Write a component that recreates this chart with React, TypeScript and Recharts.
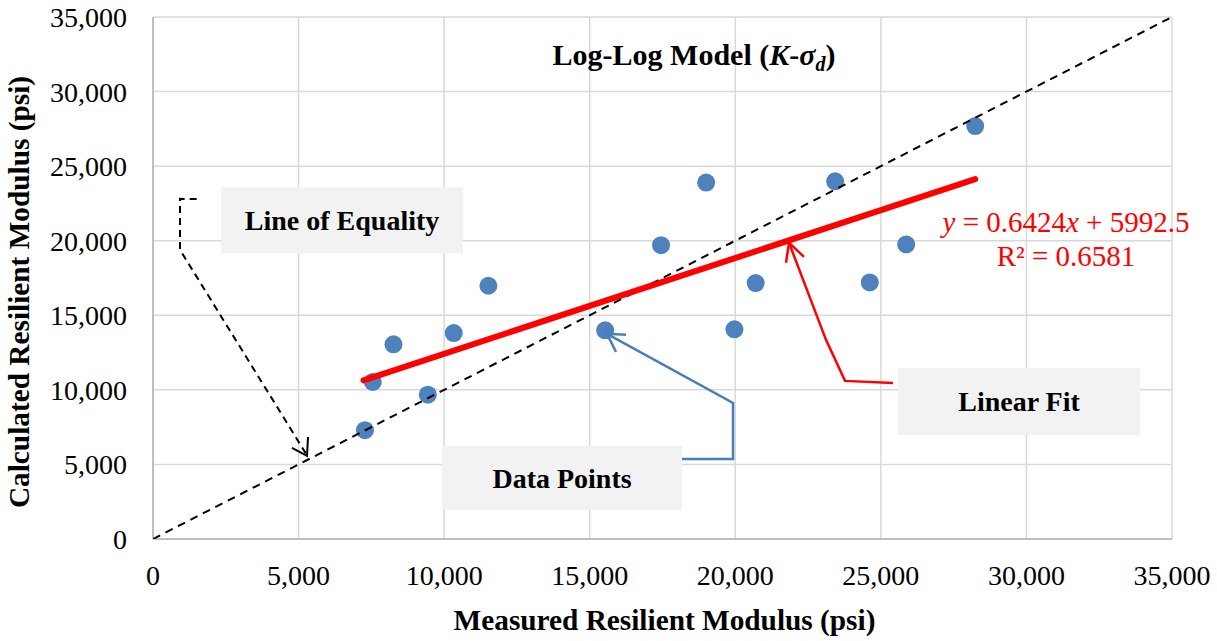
import React from 'react';
import {
  ScatterChart,
  Scatter,
  XAxis,
  YAxis,
  CartesianGrid,
  ReferenceArea,
  ReferenceDot,
  Label,
} from 'recharts';

const FONT = '"Liberation Serif", "Times New Roman", Times, serif';

// ---- axis ticks ----
const X_TICKS = [0, 5000, 10000, 15000, 20000, 25000, 30000, 35000];
const Y_TICKS = [0, 5000, 10000, 15000, 20000, 25000, 30000, 35000];

// ---- data points (Measured vs Calculated resilient modulus, psi) ----
const measured = [7280, 7550, 8260, 9440, 10330, 11520, 15530, 17450, 19000, 19970, 20700, 23430, 24620, 25870, 28240];
const calculated = [7300, 10530, 13050, 9680, 13810, 16980, 13990, 19700, 23900, 14060, 17160, 23980, 17200, 19750, 27690];

// ---- linear fit endpoints ----
const fitX = [7230, 28240];
const fitY = [10640, 24130];

// ---- line of equality ----
const equalityX = [0, 35000];
const equalityY = [0, 35000];

// ---- annotation arrows (data coordinates) ----
const equalityArrowX = [1500, 927, 927, 5280];
const equalityArrowY = [22790, 22810, 19390, 5640];
const equalityHeadX = [4774, 5290, 5324];
const equalityHeadY = [6106, 5570, 6844];

const pointsArrowX = [18170, 19922, 19922, 15594];
const pointsArrowY = [5368, 5368, 9126, 13756];
const pointsHeadX = [16246, 15594, 15903];
const pointsHeadY = [13689, 13756, 12548];

const fitArrowX = [25418, 23769, 23116, 21845];
const fitArrowY = [10468, 10602, 13353, 19862];
const fitHeadX = [21742, 21845, 22360];
const fitHeadY = [18520, 19862, 18922];

// ---- annotation boxes ----
const boxLabels = ['Line of Equality', 'Data Points', 'Linear Fit'];
const boxX1 = [2340, 9930, 25590];
const boxX2 = [10650, 18170, 33900];
const boxY1 = [19150, 1950, 6980];
const boxY2 = [23580, 6240, 11470];

// ---- text anchors ----
const titleAt = { x: 18582, y: 31806 };
const equationAt = { x: 31359, y: 20600 };
const r2At = { x: 31359, y: 18318 };
const EQ_SLOPE = '0.6424';
const EQ_INTERCEPT = '5992.5';
const R2_VALUE = '0.6581';

const zip = (xs: number[], ys: number[]) => xs.map((x, i) => ({ x, y: ys[i] }));

const pointData = zip(measured, calculated);
const fitData = zip(fitX, fitY);
const equalityData = zip(equalityX, equalityY);

const fmt = (v: number) => v.toLocaleString('en-US');

const Empty = () => <g />;

const Dot = (p: any) => <circle cx={p.cx} cy={p.cy} r={9} fill="#4F81BD" />;

const TitleContent = (props: any) => {
  const vb = props.viewBox || {};
  const cx = vb.x + (vb.width || 0) / 2;
  const cy = vb.y + (vb.height || 0) / 2;
  return (
    <text x={cx} y={cy} textAnchor="middle" fontFamily={FONT} fontSize={30} fontWeight="bold" fill="#000">
      <tspan>Log-Log Model (</tspan>
      <tspan fontStyle="italic">K</tspan>
      <tspan>-</tspan>
      <tspan fontStyle="italic">σ</tspan>
      <tspan fontStyle="italic" fontSize={20} dy={6}>d</tspan>
      <tspan dy={-6}>)</tspan>
    </text>
  );
};

const EquationContent = (props: any) => {
  const vb = props.viewBox || {};
  const cx = vb.x + (vb.width || 0) / 2;
  const cy = vb.y + (vb.height || 0) / 2;
  return (
    <text x={cx} y={cy} textAnchor="middle" fontFamily={FONT} fontSize={29} fill="#FF0000">
      <tspan fontStyle="italic">y</tspan>
      <tspan>{` = ${EQ_SLOPE}`}</tspan>
      <tspan fontStyle="italic">x</tspan>
      <tspan>{` + ${EQ_INTERCEPT}`}</tspan>
    </text>
  );
};

const R2Content = (props: any) => {
  const vb = props.viewBox || {};
  const cx = vb.x + (vb.width || 0) / 2;
  const cy = vb.y + (vb.height || 0) / 2;
  return (
    <text x={cx} y={cy} textAnchor="middle" fontFamily={FONT} fontSize={29} fill="#FF0000">
      {`R² = ${R2_VALUE}`}
    </text>
  );
};

const XTitle = (props: any) => {
  const vb = props.viewBox || {};
  return (
    <text
      x={vb.x + vb.width / 2 + 2}
      y={vb.y + 91}
      textAnchor="middle"
      fontFamily={FONT}
      fontSize={29.3}
      fontWeight="bold"
      fill="#000"
    >
      Measured Resilient Modulus (psi)
    </text>
  );
};

const YTitle = (props: any) => {
  const vb = props.viewBox || {};
  const cx = vb.x + 29;
  const cy = vb.y + vb.height / 2 + 14;
  return (
    <text
      x={cx}
      y={cy}
      transform={`rotate(-90, ${cx}, ${cy})`}
      textAnchor="middle"
      fontFamily={FONT}
      fontSize={29.3}
      fontWeight="bold"
      fill="#000"
    >
      Calculated Resilient Modulus (psi)
    </text>
  );
};

const tickStyle = { fontSize: 28, fill: '#000', fontFamily: FONT };

export default function App() {
  return (
    <div style={{ position: 'absolute', left: 0, top: 0, background: '#fff' }}>
      <ScatterChart width={1217} height={641} margin={{ top: 17, right: 45, bottom: 0, left: 0 }}>
        <CartesianGrid stroke="#D9D9D9" strokeWidth={1.5} />
        <XAxis
          type="number"
          dataKey="x"
          domain={[0, 35000]}
          ticks={X_TICKS}
          tickFormatter={fmt}
          tick={tickStyle}
          tickLine={false}
          tickMargin={20}
          axisLine={{ stroke: '#BFBFBF', strokeWidth: 2 }}
          height={102}
          allowDataOverflow
        >
          <Label content={XTitle} />
        </XAxis>
        <YAxis
          type="number"
          dataKey="y"
          domain={[0, 35000]}
          ticks={Y_TICKS}
          tickFormatter={fmt}
          tick={tickStyle}
          tickLine={false}
          tickMargin={20}
          axisLine={{ stroke: '#BFBFBF', strokeWidth: 2 }}
          width={153}
          allowDataOverflow
        >
          <Label content={YTitle} />
        </YAxis>

        {boxLabels.map((t, i) => (
          <ReferenceArea
            key={t}
            x1={boxX1[i]}
            x2={boxX2[i]}
            y1={boxY1[i]}
            y2={boxY2[i]}
            fill="#F2F2F2"
            fillOpacity={1}
            stroke="none"
            label={{ value: t, position: 'center', fontSize: 28, fontWeight: 'bold', fill: '#000', fontFamily: FONT }}
          />
        ))}

        <Scatter data={pointData} shape={Dot} isAnimationActive={false} />

        <Scatter
          data={equalityData}
          shape={Empty}
          line={{ stroke: '#000', strokeWidth: 2, strokeDasharray: '8 6' }}
          lineType="joint"
          isAnimationActive={false}
        />
        <Scatter
          data={fitData}
          shape={Empty}
          line={{ stroke: '#FF0000', strokeWidth: 6, strokeLinecap: 'round' }}
          lineType="joint"
          isAnimationActive={false}
        />

        <Scatter
          data={zip(equalityArrowX, equalityArrowY)}
          shape={Empty}
          line={{ stroke: '#000', strokeWidth: 2, strokeDasharray: '7 5' }}
          lineType="joint"
          isAnimationActive={false}
        />
        <Scatter
          data={zip(equalityHeadX, equalityHeadY)}
          shape={Empty}
          line={{ stroke: '#000', strokeWidth: 2 }}
          lineType="joint"
          isAnimationActive={false}
        />
        <Scatter
          data={zip(pointsArrowX, pointsArrowY)}
          shape={Empty}
          line={{ stroke: '#4A7EBB', strokeWidth: 2.5 }}
          lineType="joint"
          isAnimationActive={false}
        />
        <Scatter
          data={zip(pointsHeadX, pointsHeadY)}
          shape={Empty}
          line={{ stroke: '#4A7EBB', strokeWidth: 2.5 }}
          lineType="joint"
          isAnimationActive={false}
        />
        <Scatter
          data={zip(fitArrowX, fitArrowY)}
          shape={Empty}
          line={{ stroke: '#FF0000', strokeWidth: 2.5 }}
          lineType="joint"
          isAnimationActive={false}
        />
        <Scatter
          data={zip(fitHeadX, fitHeadY)}
          shape={Empty}
          line={{ stroke: '#FF0000', strokeWidth: 2.5 }}
          lineType="joint"
          isAnimationActive={false}
        />

        <ReferenceDot x={titleAt.x} y={titleAt.y} r={0} fill="none" stroke="none" label={<Label content={TitleContent} />} />
        <ReferenceDot x={equationAt.x} y={equationAt.y} r={0} fill="none" stroke="none" label={<Label content={EquationContent} />} />
        <ReferenceDot x={r2At.x} y={r2At.y} r={0} fill="none" stroke="none" label={<Label content={R2Content} />} />
      </ScatterChart>
    </div>
  );
}
